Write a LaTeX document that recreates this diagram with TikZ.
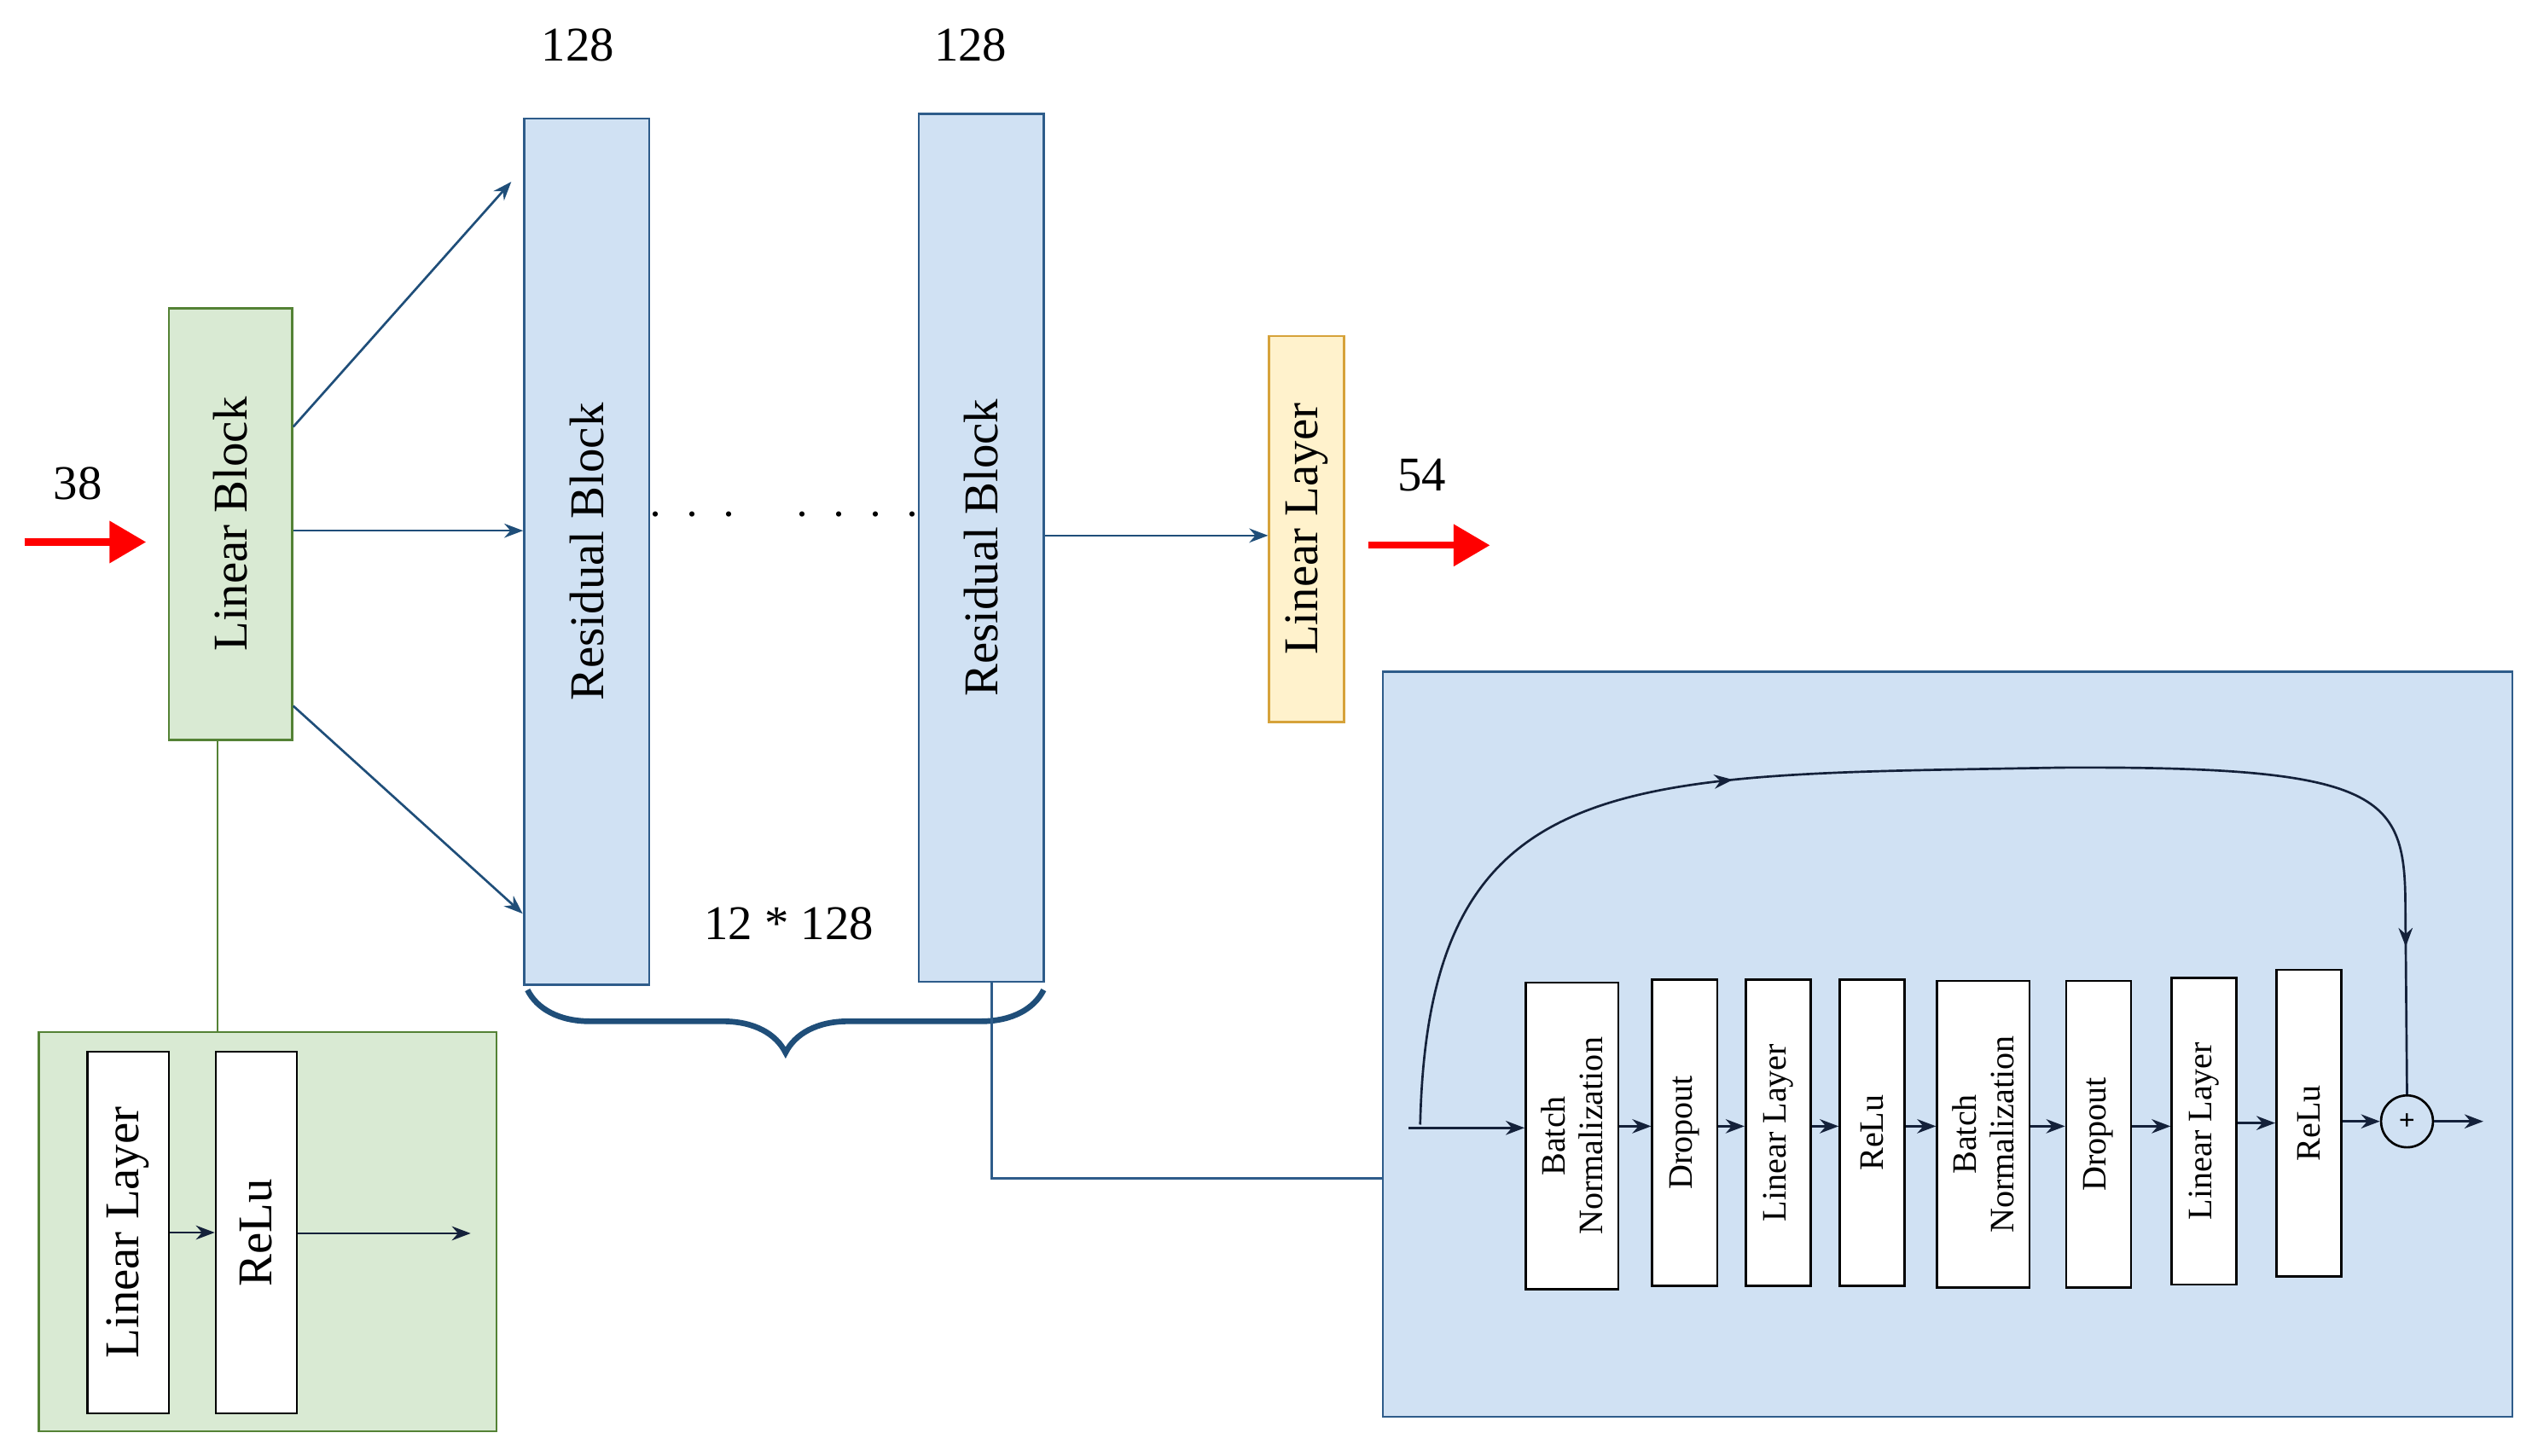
\documentclass[tikz,border=0pt]{standalone}
\usepackage{fontspec}
\setmainfont{Liberation Serif}
\usetikzlibrary{positioning,calc,arrows.meta,decorations.pathreplacing,decorations.markings}
\definecolor{blkblue}{HTML}{D0E1F3}
\definecolor{lineblue}{HTML}{2E5C8A}
\definecolor{arrblue}{HTML}{1F4E79}
\definecolor{blkgreen}{HTML}{D9EAD3}
\definecolor{linegreen}{HTML}{548235}
\definecolor{blkyellow}{HTML}{FFF2CC}
\definecolor{lineyellow}{HTML}{D6A23A}
\definecolor{navy}{HTML}{14213A}
\begin{document}
\begin{tikzpicture}[
  x=0.02cm, y=-0.02cm,
  resblock/.style={rectangle, draw=lineblue, thick, fill=blkblue, inner sep=0pt},
  linblock/.style={rectangle, draw=linegreen, thick, fill=blkgreen, inner sep=0pt},
  outlayer/.style={rectangle, draw=lineyellow, thick, fill=blkyellow, inner sep=0pt},
  layer/.style={rectangle, draw=black, thick, fill=white, inner sep=0pt, minimum width=0.8cm, minimum height=3.78cm},
  big/.style={font=\fontsize{17}{20}\selectfont},
  small/.style={font=\fontsize{12}{13}\selectfont, align=center},
  flow/.style={-Stealth, arrblue, thick},
  inner/.style={-Stealth, navy, thick},
  redarr/.style={-{Triangle[length=0.45cm,width=0.5cm]}, red, line width=2.5pt}
]
\useasboundingbox (0,0) rectangle (1560,897);

% Input and linear block
\coordinate (inA) at (15,334);
\coordinate (inB) at (90,334);
\draw[redarr] (inA) -- (inB);
\node[big] (n38) at (48,298) {38};
\node[linblock, minimum width=1.52cm, minimum height=5.32cm,
  label={[rotate=90, big]center:Linear Block}] (lb) at (142,323) {};

% Residual blocks
\node[resblock, minimum width=1.54cm, minimum height=10.68cm,
  label={[rotate=90, big]center:Residual Block}] (rb1) at (361.5,340) {};
\node[resblock, minimum width=1.54cm, minimum height=10.70cm,
  label={[rotate=90, big]center:Residual Block}] (rb2) at (604.5,337.5) {};
\node[big] (w1) at (356,28) {128};
\node[big] (w2) at (598,28) {128};
\node[big] (dots) at (483,318) {$\cdot\ \cdot\ \cdot\quad\cdot\ \cdot\ \cdot\ \cdot$};
\node[big] (hid) at (486,569) {12 * 128};

% Output
\node[outlayer, minimum width=0.92cm, minimum height=4.76cm,
  label={[rotate=90, big]center:Linear Layer}] (ol) at (805,326) {};
\coordinate (outA) at (843,336);
\coordinate (outB) at (918,336);
\draw[redarr] (outA) -- (outB);
\node[big] (n54) at (876,293) {54};

% Arrows
\coordinate (t1) at (315,112);
\coordinate (t3) at (322,563);
\draw[flow] (lb.east |- {(0,263)}) -- (t1);
\draw[flow] (lb.east |- {(0,327)}) -- (rb1.west |- {(0,327)});
\draw[flow] (lb.east |- {(0,435)}) -- (t3);
\draw[flow] (rb2.east |- {(0,330)}) -- (ol.west |- {(0,330)});

% Brace
\coordinate (brL) at (325,610);
\coordinate (brR) at (643,610);
\draw[arrblue, line width=2pt, decorate, decoration={brace, mirror, amplitude=22pt}] (brL) -- (brR);

% Linear block detail
\node[linblock, minimum width=5.64cm, minimum height=4.92cm] (lbd) at (165,759) {};
\draw[linegreen, thick] (lb.south -| {(134,0)}) -- (lbd.north -| {(134,0)});
\node[layer, minimum width=1.0cm, minimum height=4.46cm,
  label={[rotate=90, big]center:Linear Layer}] (ll) at (79,759.5) {};
\node[layer, minimum width=1.0cm, minimum height=4.46cm,
  label={[rotate=90, big]center:ReLu}] (rl) at (158,759.5) {};
\coordinate (lout) at (290,760);
\draw[inner] (ll) -- (rl);
\draw[inner] (rl.east |- {(0,760)}) -- (lout);

% Residual block detail
\node[resblock, minimum width=13.92cm, minimum height=9.18cm] (rbd) at (1200,643.5) {};
\draw[lineblue, thick] (rb2.south -| {(611,0)}) |- (rbd.west |- {(0,726)});
\node[layer, minimum width=1.14cm, label={[rotate=90, small]center:Batch\\Normalization}] (bn1) at (968.5,700) {};
\node[layer, label={[rotate=90, small]center:Dropout}] (do1) at (1038,698) {};
\node[layer, label={[rotate=90, small]center:Linear Layer}] (li1) at (1095.5,698) {};
\node[layer, label={[rotate=90, small]center:ReLu}] (re1) at (1153.5,698) {};
\node[layer, minimum width=1.14cm, label={[rotate=90, small]center:Batch\\Normalization}] (bn2) at (1222,699) {};
\node[layer, label={[rotate=90, small]center:Dropout}] (do2) at (1293,699) {};
\node[layer, label={[rotate=90, small]center:Linear Layer}] (li2) at (1358,697) {};
\node[layer, label={[rotate=90, small]center:ReLu}] (re2) at (1422.5,692) {};
\node[circle, draw=black, thick, minimum size=0.64cm, inner sep=0pt, font=\bfseries] (plus) at (1483,691) {+};
\coordinate (rin) at (868,695);
\coordinate (rout) at (1530,691);
\draw[inner] (rin) -- (bn1.west |- rin);
\draw[inner] (bn1.east |- {(0,694)}) -- (do1.west |- {(0,694)});
\draw[inner] (do1.east |- {(0,694)}) -- (li1.west |- {(0,694)});
\draw[inner] (li1.east |- {(0,694)}) -- (re1.west |- {(0,694)});
\draw[inner] (re1.east |- {(0,694)}) -- (bn2.west |- {(0,694)});
\draw[inner] (bn2.east |- {(0,694)}) -- (do2.west |- {(0,694)});
\draw[inner] (do2.east |- {(0,694)}) -- (li2.west |- {(0,694)});
\draw[inner] (li2.east |- {(0,692)}) -- (re2.west |- {(0,692)});
\draw[inner] (re2.east |- plus) -- (plus);
\draw[inner] (plus) -- (rout);

% Skip connection
\coordinate (skip) at (875,693);
\draw[navy, thick, postaction={decorate}, decoration={markings,
    mark=at position 0.36 with {\arrow{Stealth}},
    mark=at position 0.9 with {\arrow{Stealth}}}]
  (skip) .. controls (880,470) and (1000,478) .. (1270,473)
  .. controls (1470,472) and (1482,490) .. (1482,560) -- (plus.north);
\end{tikzpicture}
\end{document}
